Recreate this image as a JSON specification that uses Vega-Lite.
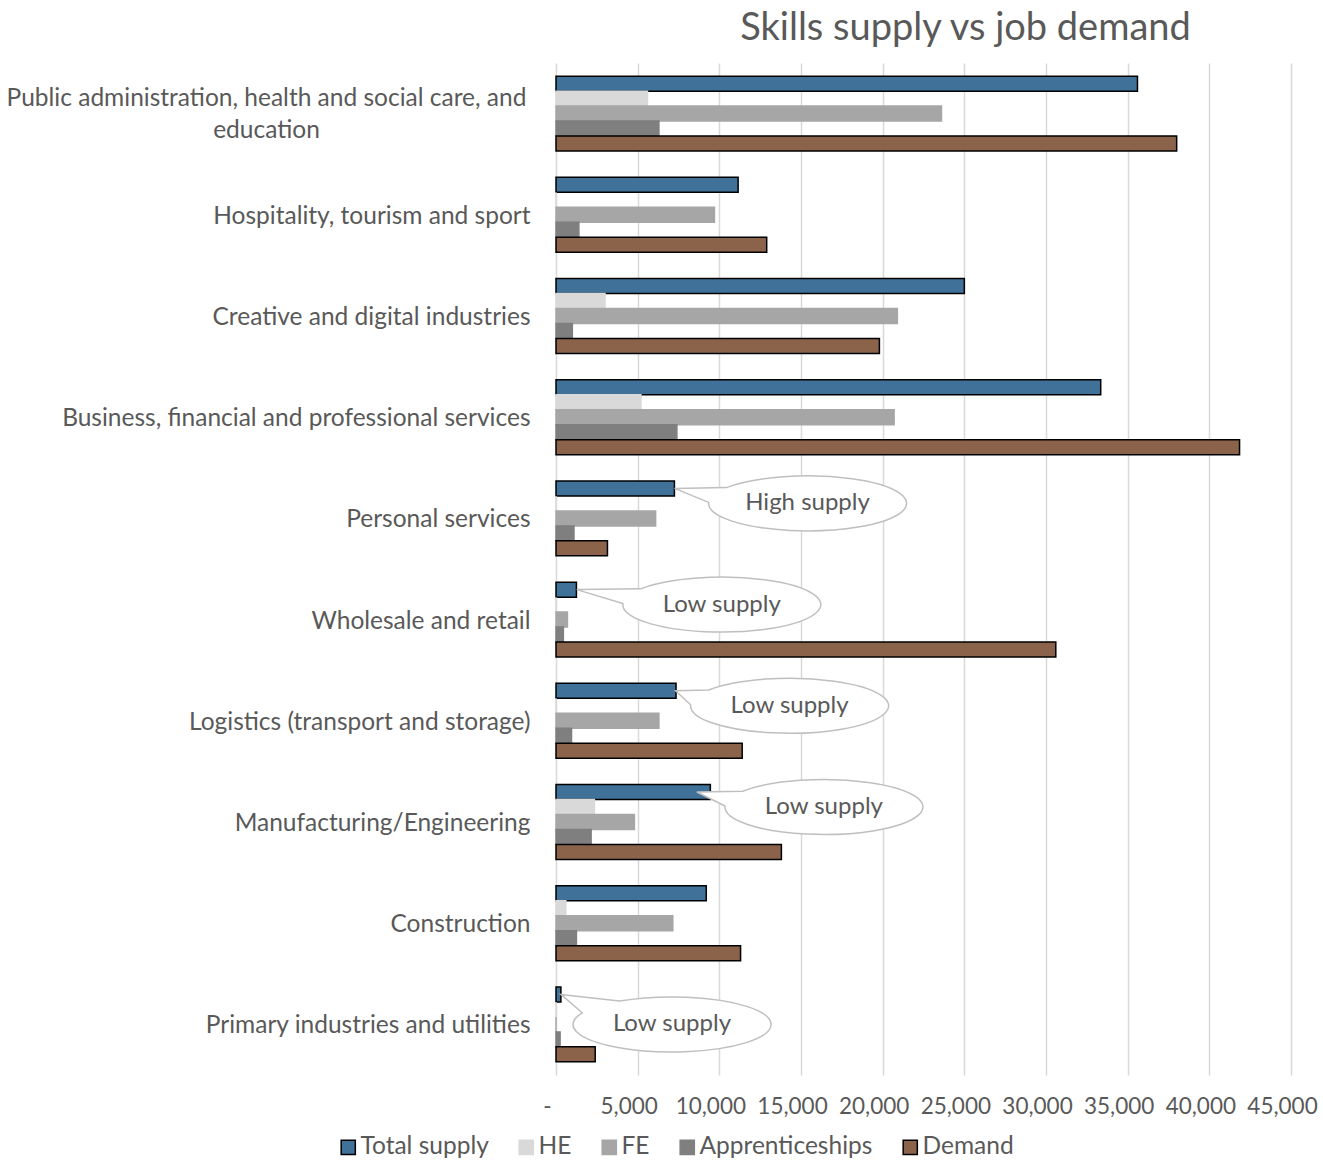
{
  "$schema": "https://vega.github.io/schema/vega-lite/v6.json",
  "width": 735,
  "height": 1012,
  "autosize": {"type": "none"},
  "padding": {"left": 556, "top": 63, "right": 32, "bottom": 90},
  "background": "white",
  "config": {"font": "Lato", "view": {"stroke": null}},
  "title": {"text": "Skills supply vs job demand", "fontSize": 38, "font": "Lato", "fontWeight": "normal", "color": "#595959", "anchor": "middle", "frame": "group", "dx": 42, "offset": 15},
  "datasets": {
    "bars": [
      {"sector": "Public administration, health and social care, and education", "series": "Total supply", "value": 35600},
      {"sector": "Public administration, health and social care, and education", "series": "HE", "value": 5600},
      {"sector": "Public administration, health and social care, and education", "series": "FE", "value": 23600},
      {"sector": "Public administration, health and social care, and education", "series": "Apprenticeships", "value": 6300},
      {"sector": "Public administration, health and social care, and education", "series": "Demand", "value": 38000},
      {"sector": "Hospitality, tourism and sport", "series": "Total supply", "value": 11150},
      {"sector": "Hospitality, tourism and sport", "series": "HE", "value": 0},
      {"sector": "Hospitality, tourism and sport", "series": "FE", "value": 9700},
      {"sector": "Hospitality, tourism and sport", "series": "Apprenticeships", "value": 1400},
      {"sector": "Hospitality, tourism and sport", "series": "Demand", "value": 12900},
      {"sector": "Creative and digital industries", "series": "Total supply", "value": 25000},
      {"sector": "Creative and digital industries", "series": "HE", "value": 3000},
      {"sector": "Creative and digital industries", "series": "FE", "value": 20900},
      {"sector": "Creative and digital industries", "series": "Apprenticeships", "value": 1000},
      {"sector": "Creative and digital industries", "series": "Demand", "value": 19800},
      {"sector": "Business, financial and professional services", "series": "Total supply", "value": 33350},
      {"sector": "Business, financial and professional services", "series": "HE", "value": 5200},
      {"sector": "Business, financial and professional services", "series": "FE", "value": 20700},
      {"sector": "Business, financial and professional services", "series": "Apprenticeships", "value": 7400},
      {"sector": "Business, financial and professional services", "series": "Demand", "value": 41850},
      {"sector": "Personal services", "series": "Total supply", "value": 7250},
      {"sector": "Personal services", "series": "HE", "value": 0},
      {"sector": "Personal services", "series": "FE", "value": 6100},
      {"sector": "Personal services", "series": "Apprenticeships", "value": 1100},
      {"sector": "Personal services", "series": "Demand", "value": 3150},
      {"sector": "Wholesale and retail", "series": "Total supply", "value": 1250},
      {"sector": "Wholesale and retail", "series": "HE", "value": 0},
      {"sector": "Wholesale and retail", "series": "FE", "value": 700},
      {"sector": "Wholesale and retail", "series": "Apprenticeships", "value": 450},
      {"sector": "Wholesale and retail", "series": "Demand", "value": 30600},
      {"sector": "Logistics (transport and storage)", "series": "Total supply", "value": 7350},
      {"sector": "Logistics (transport and storage)", "series": "HE", "value": 0},
      {"sector": "Logistics (transport and storage)", "series": "FE", "value": 6300},
      {"sector": "Logistics (transport and storage)", "series": "Apprenticeships", "value": 950},
      {"sector": "Logistics (transport and storage)", "series": "Demand", "value": 11400},
      {"sector": "Manufacturing/Engineering", "series": "Total supply", "value": 9450},
      {"sector": "Manufacturing/Engineering", "series": "HE", "value": 2350},
      {"sector": "Manufacturing/Engineering", "series": "FE", "value": 4800},
      {"sector": "Manufacturing/Engineering", "series": "Apprenticeships", "value": 2150},
      {"sector": "Manufacturing/Engineering", "series": "Demand", "value": 13800},
      {"sector": "Construction", "series": "Total supply", "value": 9200},
      {"sector": "Construction", "series": "HE", "value": 600},
      {"sector": "Construction", "series": "FE", "value": 7150},
      {"sector": "Construction", "series": "Apprenticeships", "value": 1250},
      {"sector": "Construction", "series": "Demand", "value": 11300},
      {"sector": "Primary industries and utilities", "series": "Total supply", "value": 300},
      {"sector": "Primary industries and utilities", "series": "HE", "value": 0},
      {"sector": "Primary industries and utilities", "series": "FE", "value": 0},
      {"sector": "Primary industries and utilities", "series": "Apprenticeships", "value": 250},
      {"sector": "Primary industries and utilities", "series": "Demand", "value": 2400}
    ],
    "callouts": [
      {"sector": "Personal services", "slot": "HE", "cx": 15400, "callout": "c1", "label": "High supply"},
      {"sector": "Wholesale and retail", "slot": "HE", "cx": 10150, "callout": "c2", "label": "Low supply"},
      {"sector": "Logistics (transport and storage)", "slot": "HE", "cx": 14300, "callout": "c3", "label": "Low supply"},
      {"sector": "Manufacturing/Engineering", "slot": "HE", "cx": 16400, "callout": "c4", "label": "Low supply"},
      {"sector": "Primary industries and utilities", "slot": "FE", "cx": 7100, "callout": "c5", "label": "Low supply"}
    ]
  },
  "layer": [
    {
      "data": {"name": "bars"},
      "mark": {"type": "bar", "strokeWidth": 1.5},
      "encoding": {
        "y": {
          "field": "sector", "type": "nominal",
          "sort": ["Public administration, health and social care, and education", "Hospitality, tourism and sport", "Creative and digital industries", "Business, financial and professional services", "Personal services", "Wholesale and retail", "Logistics (transport and storage)", "Manufacturing/Engineering", "Construction", "Primary industries and utilities"],
          "scale": {"domain": ["Public administration, health and social care, and education", "Hospitality, tourism and sport", "Creative and digital industries", "Business, financial and professional services", "Personal services", "Wholesale and retail", "Logistics (transport and storage)", "Manufacturing/Engineering", "Construction", "Primary industries and utilities"], "paddingInner": 0.26, "paddingOuter": 0.13},
          "axis": {
            "title": null, "domain": false, "ticks": false, "tickSize": 0, "grid": false,
            "labelPadding": {"condition": {"test": "datum.value == 'Public administration, health and social care, and education'", "value": 290}, "value": 26},
            "labelAlign": {"condition": {"test": "datum.value == 'Public administration, health and social care, and education'", "value": "center"}, "value": "right"},
            "labelOffset": {"condition": {"test": "datum.value == 'Public administration, health and social care, and education'", "value": -15}, "value": 2},
            "labelFontSize": 24.5, "labelColor": "#595959", "labelFont": "Lato", "labelLimit": 700, "labelLineHeight": 32,
            "labelExpr": "datum.label == 'Public administration, health and social care, and education' ? ['Public administration, health and social care, and', 'education'] : datum.label"
          }
        },
        "x": {
          "field": "value", "type": "quantitative",
          "scale": {"domain": [0, 45000], "nice": false},
          "axis": {
            "title": null, "domain": false, "ticks": false, "grid": true, "gridColor": "#d9d9d9", "gridWidth": 1.5,
            "values": [0, 5000, 10000, 15000, 20000, 25000, 30000, 35000, 40000, 45000],
            "labelExpr": "datum.value == 0 ? '-' : format(datum.value, ',')",
            "labelFontSize": 22.5, "labelColor": "#595959", "labelFont": "Lato", "labelPadding": 20, "labelOffset": -9, "labelFlush": false, "labelOverlap": false
          }
        },
        "yOffset": {
          "field": "series", "type": "nominal",
          "scale": {"domain": ["Total supply", "HE", "FE", "Apprenticeships", "Demand"], "paddingInner": 0, "paddingOuter": 0}
        },
        "fill": {
          "field": "series", "type": "nominal",
          "scale": {"domain": ["Total supply", "HE", "FE", "Apprenticeships", "Demand"], "range": ["#3f7199", "#d9d9d9", "#a6a6a6", "#7f7f7f", "#8b634b"]},
          "legend": {"title": null, "orient": "none", "legendX": -220, "legendY": 1072, "direction": "horizontal", "columns": 5, "symbolType": "square", "symbolSize": 200, "symbolStrokeWidth": 1.5, "labelFontSize": 24.5, "labelColor": "#595959", "labelFont": "Lato", "labelLimit": 400, "columnPadding": 25, "labelOffset": 0}
        },
        "stroke": {
          "field": "series", "type": "nominal",
          "scale": {"domain": ["Total supply", "HE", "FE", "Apprenticeships", "Demand"], "range": ["#000000", "#d9d9d9", "#a6a6a6", "#7f7f7f", "#000000"]},
          "legend": {"title": null, "orient": "none", "legendX": -220, "legendY": 1072, "direction": "horizontal", "columns": 5, "symbolType": "square", "symbolSize": 200, "symbolStrokeWidth": 1.5, "labelFontSize": 24.5, "labelColor": "#595959", "labelFont": "Lato", "labelLimit": 400, "columnPadding": 25, "labelOffset": 0}
        }
      }
    },
    {
      "data": {"name": "callouts"},
      "mark": {"type": "point", "filled": true, "fill": "white", "stroke": "#bfbfbf", "strokeWidth": 1.5, "size": 40000, "opacity": 1, "fillOpacity": 1, "strokeOpacity": 1},
      "encoding": {
        "x": {"field": "cx", "type": "quantitative"},
        "y": {"field": "sector", "type": "nominal", "sort": ["Public administration, health and social care, and education", "Hospitality, tourism and sport", "Creative and digital industries", "Business, financial and professional services", "Personal services", "Wholesale and retail", "Logistics (transport and storage)", "Manufacturing/Engineering", "Construction", "Primary industries and utilities"]},
        "yOffset": {"field": "slot", "type": "nominal"},
        "shape": {
          "field": "callout", "type": "nominal",
          "scale": {"domain": ["c1", "c2", "c3", "c4", "c5"], "range": [
            "M-1.33,-0.15L-0.811,-0.158A0.99,0.275,0,1,1,-0.989,-0.010Z",
            "M-1.45,-0.15L-0.811,-0.158A0.99,0.275,0,1,1,-0.989,-0.010Z",
            "M-1.14,-0.15L-0.811,-0.158A0.99,0.275,0,1,1,-0.989,-0.010Z",
            "M-1.27,-0.15L-0.811,-0.158A0.99,0.275,0,1,1,-0.989,-0.010Z",
            "M-1.11,-0.30L-0.525,-0.233A0.99,0.275,0,1,1,-0.897,-0.116Z"
          ]},
          "legend": null
        }
      }
    },
    {
      "data": {"name": "callouts"},
      "mark": {"type": "text", "fontSize": 24, "font": "Lato", "color": "#595959", "align": "center", "baseline": "middle"},
      "encoding": {
        "x": {"field": "cx", "type": "quantitative"},
        "y": {"field": "sector", "type": "nominal", "sort": ["Public administration, health and social care, and education", "Hospitality, tourism and sport", "Creative and digital industries", "Business, financial and professional services", "Personal services", "Wholesale and retail", "Logistics (transport and storage)", "Manufacturing/Engineering", "Construction", "Primary industries and utilities"]},
        "yOffset": {"field": "slot", "type": "nominal"},
        "text": {"field": "label"}
      }
    }
  ]
}
